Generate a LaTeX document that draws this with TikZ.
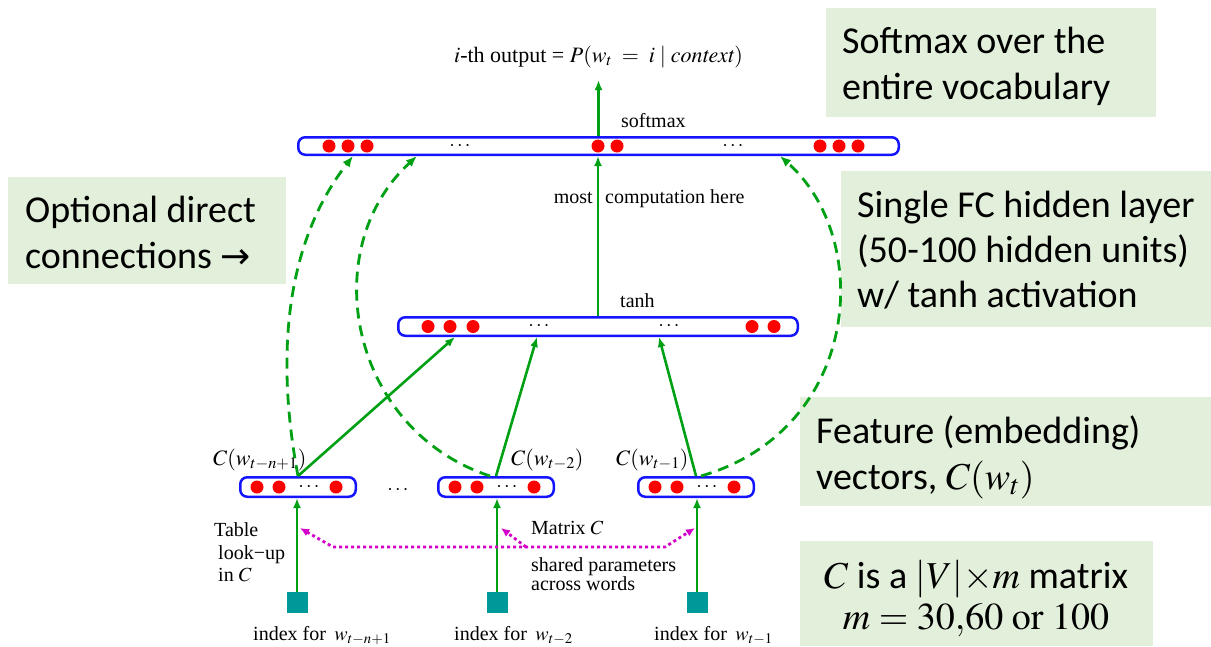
\documentclass[tikz,border=0pt]{standalone}
\usepackage{mathptmx}
\usepackage{fontspec}
\setmainfont{Liberation Serif}
\newfontfamily\notefont{Carlito}
\newfontfamily\symfont{DejaVu Sans}
\usetikzlibrary{arrows.meta}

\definecolor{netgreen}{RGB}{0,160,20}
\definecolor{barblue}{RGB}{20,20,255}
\definecolor{unitred}{RGB}{255,0,0}
\definecolor{idxteal}{RGB}{0,153,153}
\definecolor{sharedpink}{RGB}{210,0,200}
\definecolor{notefill}{RGB}{226,239,218}

\tikzset{
  layerbar/.style={draw=barblue, line width=2.5pt, rounded corners=7pt, inner sep=0pt},
  unit/.style={circle, fill=unitred, minimum size=13pt, inner sep=0pt},
  ellip/.style={font=\fontsize{20}{20}\selectfont, inner sep=0pt},
  fwd/.style={draw=netgreen, line width=2.6pt, -{Latex[length=10pt,width=8pt]}},
  direct/.style={draw=netgreen, line width=2.8pt, dash pattern=on 11pt off 7pt, -{Latex[length=11pt,width=9pt]}},
  sharedlink/.style={draw=sharedpink, line width=2.8pt, dash pattern=on 3pt off 3pt},
  sharedtip/.tip={Latex[length=9pt,width=8pt]},
  idxbox/.style={fill=idxteal, minimum size=21pt, inner sep=0pt},
  lbl/.style={font=\fontsize{20}{22}\selectfont, inner sep=0pt},
  mlbl/.style={font=\fontsize{22}{24}\selectfont, inner sep=0pt},
  note/.style={fill=notefill, inner sep=0pt, anchor=north west},
  notetxt/.style={font=\notefont\fontsize{38}{46}\selectfont, inner sep=0pt, anchor=base west},
}

\begin{document}
\begin{tikzpicture}[x=1pt, y=-1pt]
\useasboundingbox (0,0) rectangle (1211,646);

% ---------- annotation boxes ----------
\node[note, minimum width=330pt, minimum height=109pt] (nsoft) at (826,8) {};
\node[note, minimum width=278pt, minimum height=107pt] (nopt) at (8,177) {};
\node[note, minimum width=370pt, minimum height=156pt] (nfc) at (841,171) {};
\node[note, minimum width=411pt, minimum height=109pt] (nfeat) at (800,397) {};
\node[note, minimum width=353pt, minimum height=105pt] (nmat) at (800,541) {};

\node[notetxt] (tsoftA) at (842,53) {Softmax over the};
\node[notetxt] (tsoftB) at (842,99) {entire vocabulary};
\node[notetxt] (toptA) at (25,222) {Optional direct};
\node[notetxt] (toptB) at (25,268) {connections {\symfont\fontsize{36}{36}\selectfont →}};
\node[notetxt] (tfcA) at (857,217) {Single FC hidden layer};
\node[notetxt] (tfcB) at (857,262) {(50-100 hidden units)};
\node[notetxt] (tfcC) at (857,307) {w/ tanh activation};
\node[notetxt] (tfeatA) at (816,443) {Feature (embedding)};
\node[notetxt] (tfeatB) at (816,489) {vectors, $C(w_t)$};
\node[notetxt, anchor=base] (tmatA) at (976,588) {$C$ is a $|V|{\times}m$ matrix};
\node[notetxt, anchor=base] (tmatB) at (976,629) {$m = 30{,}60\ \mathrm{or}\ 100$};

% ---------- layers ----------
\node[layerbar, minimum width=600.5pt, minimum height=17.5pt] (soft) at (598.5,146) {};
\node[layerbar, minimum width=399.5pt, minimum height=18.5pt] (tanh) at (598,326.5) {};
\node[layerbar, minimum width=115.5pt, minimum height=19.5pt] (e1) at (298,487) {};
\node[layerbar, minimum width=115.5pt, minimum height=19.5pt] (e2) at (496,487) {};
\node[layerbar, minimum width=115.5pt, minimum height=19.5pt] (e3) at (696,487) {};

% units of the softmax layer
\foreach \x in {329,348,367,598,617,820,839,858}
  \node[unit] (su\x) at (\x,146) {};
\node[ellip] (sdA) at (460,146) {$\cdots$};
\node[ellip] (sdB) at (733,146) {$\cdots$};

% units of the hidden layer
\foreach \x in {428,450,473,752,774}
  \node[unit] (hu\x) at (\x,326.5) {};
\node[ellip] (hdA) at (539,326.5) {$\cdots$};
\node[ellip] (hdB) at (669,326.5) {$\cdots$};

% units of the feature vectors
\foreach \b/\l in {1/239,2/437,3/637} {
  \foreach \o in {18,40,97}
    \node[unit] (eu\b-\o) at (\l+\o,487) {};
  \node[ellip] (ed\b) at (\l+70,487) {$\cdots$};
}
\node[ellip] (edmid) at (398,490) {$\cdots$};

% word index inputs
\node[idxbox] (s1) at (297,602.5) {};
\node[idxbox] (s2) at (497,602.5) {};
\node[idxbox] (s3) at (697,602.5) {};

% ---------- labels ----------
\node[mlbl, anchor=base] (title) at (598.5,62) {$i$-th output = $P(w_t \;=\; i \mid \mathit{context})$};
\node[lbl, anchor=base west] (lsoft) at (621,127) {softmax};
\node[lbl, anchor=base east] (lmost) at (593,203) {most};
\node[lbl, anchor=base west] (lcomp) at (605,203) {computation here};
\node[lbl, anchor=base west] (ltanh) at (620,307) {tanh};
\node[mlbl, anchor=base west] (lc1) at (213,465) {$C(w_{t-n+1})$};
\node[mlbl, anchor=base west] (lc2) at (511,465) {$C(w_{t-2})$};
\node[mlbl, anchor=base west] (lc3) at (616,465) {$C(w_{t-1})$};
\node[lbl, anchor=base west] (ltabA) at (214,536) {Table};
\node[lbl, anchor=base west] (ltabB) at (218,559) {look\textminus up};
\node[lbl, anchor=base west] (ltabC) at (218,581) {in $C$};
\node[lbl, anchor=base west] (lmat) at (531,534) {Matrix $C$};
\node[lbl, anchor=base west] (lshA) at (531,571) {shared parameters};
\node[lbl, anchor=base west] (lshB) at (531,590) {across words};
\node[lbl, anchor=base west] (li1) at (253,640) {index for \,$w_{t-n+1}$};
\node[lbl, anchor=base west] (li2) at (454,640) {index for \,$w_{t-2}$};
\node[lbl, anchor=base west] (li3) at (654,640) {index for \,$w_{t-1}$};

% ---------- connections ----------
\coordinate (outtip) at (598.5,80);
\draw[fwd] (soft.north) -- (outtip);
\draw[fwd] (tanh.north) -- (tanh.north |- soft.south);
\draw[fwd] (e1.north) -- ([xshift=-143pt]tanh.south);
\draw[fwd] (e2.north) -- ([xshift=-61pt]tanh.south);
\draw[fwd] (e3.north) -- ([xshift=61pt]tanh.south);
\draw[fwd] (s1.north) -- (s1.north |- e1.south);
\draw[fwd] (s2.north) -- (s2.north |- e2.south);
\draw[fwd] (s3.north) -- (s3.north |- e3.south);

% optional direct connections to the output layer
\draw[direct] (e1.north) .. controls (278,370) and (280,250) .. ([xshift=-245.5pt]soft.south);
\draw[direct] ([xshift=-6pt]e2.north) .. controls (350,430) and (315,250) .. ([xshift=-181.5pt]soft.south);
\draw[direct] ([xshift=5pt]e3.north) .. controls (860,430) and (875,240) .. ([xshift=181.5pt]soft.south);

% shared lookup matrix
\coordinate (m1) at (300,528);
\coordinate (m2) at (501,528);
\coordinate (m3) at (695,528);
\coordinate (mL) at (333,547);
\coordinate (mR) at (665,547);
\coordinate (mM) at (526,547);
\draw[sharedlink, sharedtip-sharedtip] (m1) -- (mL) -- (mR) -- (m3);
\draw[sharedlink, -sharedtip] (mM) -- (m2);
\end{tikzpicture}
\end{document}
